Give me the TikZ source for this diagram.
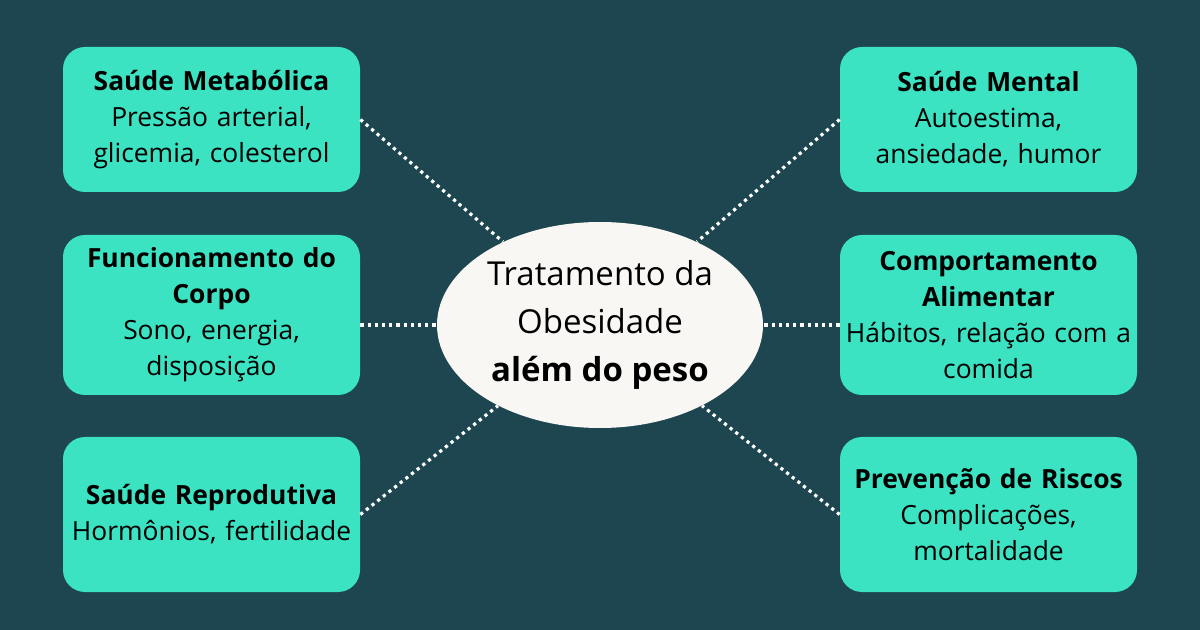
\documentclass[tikz,border=0pt]{standalone}
\usepackage{fontspec}
\setmainfont{Open Sans}
\usetikzlibrary{shapes.geometric}
\definecolor{bgteal}{HTML}{1D4650}
\definecolor{boxgreen}{HTML}{3BE3C3}
\definecolor{ellwhite}{HTML}{F8F7F4}
\tikzset{
  topic/.style={fill=boxgreen, rounded corners=11pt, minimum width=148.5pt,
    minimum height=72.5pt, inner sep=1pt, text width=146pt, align=center,
    font=\fontsize{13.2}{18}\selectfont},
  hub/.style={ellipse, fill=ellwhite, minimum width=163pt, minimum height=103pt,
    inner sep=-20pt, align=center, font=\fontsize{16.5}{24}\selectfont},
  link/.style={white, line width=1.6pt, dotted}
}
\begin{document}
\begin{tikzpicture}[x=0.5pt,y=-0.5pt]
\fill[bgteal] (0,0) rectangle (1200,630);
\useasboundingbox (0,0) rectangle (1200,630);
\node[hub] (hub) at (600,325) {Tratamento da\\Obesidade\\\textbf{além do peso}};
\node[topic] (metab) at (211.5,119.5) {\textbf{Saúde Metabólica}\\Pressão arterial,\\glicemia, colesterol};
\node[topic, minimum height=80pt] (corpo) at (211.5,315) {\textbf{Funcionamento do}\\\textbf{Corpo}\\Sono, energia,\\disposição};
\node[topic, minimum height=77.5pt] (repro) at (211.5,514.5) {\textbf{Saúde Reprodutiva}\\Hormônios, fertilidade};
\node[topic] (mental) at (988.5,119.5) {\textbf{Saúde Mental}\\Autoestima,\\ansiedade, humor};
\node[topic, minimum height=80pt] (alim) at (988.5,315) {\textbf{Comportamento}\\\textbf{Alimentar}\\Hábitos, relação com a\\comida};
\node[topic, minimum height=77.5pt] (risco) at (988.5,514.5) {\textbf{Prevenção de Riscos}\\Complicações,\\mortalidade};
\draw[link] (metab.east) -- (hub);
\draw[link] (corpo.east |- hub) -- (hub);
\draw[link] (repro.east) -- (hub);
\draw[link] (mental.west) -- (hub);
\draw[link] (alim.west |- hub) -- (hub);
\draw[link] (risco.west) -- (hub);
\end{tikzpicture}
\end{document}
